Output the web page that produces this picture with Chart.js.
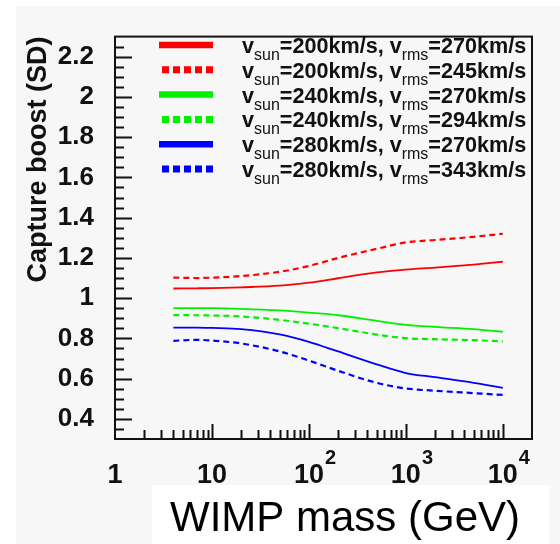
<!DOCTYPE html>
<html><head><meta charset="utf-8">
<script src="https://cdn.jsdelivr.net/npm/chart.js@4/dist/chart.umd.min.js"></script>
<style>html,body{margin:0;padding:0;background:#fff;} #wrap{width:560px;height:544px;position:relative;}</style>
</head><body><div id="wrap"><canvas id="c" width="560" height="544"></canvas></div>
<script>
// ---- data ----
const MASS = [4, 7, 10, 20, 50, 100, 200, 500, 1000, 2000, 5000, 10000];
const RED_SOLID   = [1.048, 1.049, 1.050, 1.054, 1.062, 1.077, 1.099, 1.128, 1.142, 1.152, 1.167, 1.181];
const RED_DASH    = [1.102, 1.100, 1.102, 1.110, 1.131, 1.160, 1.200, 1.245, 1.277, 1.289, 1.305, 1.320];
const GREEN_SOLID = [0.950, 0.950, 0.950, 0.947, 0.939, 0.928, 0.915, 0.887, 0.867, 0.857, 0.846, 0.833];
const GREEN_DASH  = [0.916, 0.915, 0.914, 0.909, 0.892, 0.873, 0.851, 0.819, 0.801, 0.796, 0.791, 0.785];
const BLUE_SOLID  = [0.854, 0.854, 0.852, 0.846, 0.820, 0.783, 0.735, 0.671, 0.628, 0.607, 0.579, 0.554];
const BLUE_DASH   = [0.788, 0.793, 0.789, 0.775, 0.735, 0.690, 0.639, 0.579, 0.551, 0.540, 0.528, 0.519];
const V_SUN = ['200', '200', '240', '240', '280', '280'];
const V_RMS = ['270', '245', '270', '294', '270', '343'];
const Y_TICKS = [0.4, 0.6, 0.8, 1.0, 1.2, 1.4, 1.6, 1.8, 2.0, 2.2];
const Y_TICK_LABELS = ['0.4', '0.6', '0.8', '1', '1.2', '1.4', '1.6', '1.8', '2', '2.2'];
const X_TICKS = [1, 10, 100, 1000, 10000];
const X_TICK_BASE = ['1', '10', '10', '10', '10'];
const X_TICK_EXP = ['', '', '2', '3', '4'];
const Y_TITLE = 'Capture boost (SD)';
const X_TITLE = 'WIMP mass (GeV)';

// ---- styles ----
const FONT = '"Liberation Sans", Arial, sans-serif';
const SERIES = [RED_SOLID, RED_DASH, GREEN_SOLID, GREEN_DASH, BLUE_SOLID, BLUE_DASH];
const COLORS = ['#ff0000', '#ff0000', '#00f000', '#00f000', '#0000ff', '#0000ff'];
const DASHED = [false, true, false, true, false, true];

const datasets = SERIES.map((arr, i) => ({
  label: 'v_sun=' + V_SUN[i] + 'km/s, v_rms=' + V_RMS[i] + 'km/s',
  data: MASS.map((m, j) => ({x: m, y: arr[j]})),
  borderColor: COLORS[i],
  borderWidth: DASHED[i] ? 2.2 : 1.8,
  borderDash: DASHED[i] ? [6, 4] : [],
  pointRadius: 0,
  fill: false,
  cubicInterpolationMode: 'monotone'
}));

const decor = {
  id: 'decor',
  beforeDraw(chart) {
    const c = chart.ctx;
    c.save();
    c.fillStyle = '#ffffff'; c.fillRect(0, 0, 560, 544);
    c.fillStyle = '#f7f7f7'; c.fillRect(16, 6, 544, 538);
    c.fillStyle = '#ffffff'; c.fillRect(152, 485, 397, 59);
    c.restore();
  },
  afterDatasetsDraw(chart) {
    const c = chart.ctx, a = chart.chartArea;
    const xs = chart.scales.x, ys = chart.scales.y;
    c.save();
    c.strokeStyle = '#111'; c.lineWidth = 2;
    c.strokeRect(a.left, a.top, a.right - a.left, a.bottom - a.top);
    // y ticks (inward)
    c.beginPath();
    for (let k = 7; k <= 45; k++) {
      const v = k * 0.05;
      const y = Math.round(ys.getPixelForValue(v)) + 0.5;
      const len = (k % 4 === 0) ? 17 : 9;
      c.moveTo(a.left, y); c.lineTo(a.left + len, y);
    }
    // x ticks (inward)
    for (let d = 0; d <= 4; d++) {
      for (let m = 1; m <= 9; m++) {
        const v = m * Math.pow(10, d);
        if (v <= 1 || v > 10000) continue;
        const x = Math.round(xs.getPixelForValue(v)) + 0.5;
        const len = (m === 1) ? 15 : 9;
        c.moveTo(x, a.bottom); c.lineTo(x, a.bottom - len);
      }
    }
    c.stroke();
    // x tick labels
    c.fillStyle = '#111';
    X_TICKS.forEach((v, i) => {
      const x = xs.getPixelForValue(v);
      c.font = 'bold 27px ' + FONT;
      c.textAlign = 'center'; c.textBaseline = 'alphabetic';
      c.fillText(X_TICK_BASE[i], x, 483);
      if (X_TICK_EXP[i]) {
        const w = c.measureText(X_TICK_BASE[i]).width;
        c.font = 'bold 20px ' + FONT;
        c.textAlign = 'left';
        c.fillText(X_TICK_EXP[i], x + w / 2 + 1, 464);
      }
    });
    // x title
    c.font = '42px ' + FONT;
    c.textAlign = 'center'; c.fillStyle = '#000';
    c.fillText(X_TITLE, 345, 531);
    // legend
    chart.data.datasets.forEach((ds, i) => {
      const yc = 45 + i * 24.8;
      c.strokeStyle = ds.borderColor;
      c.lineCap = 'butt';
      c.beginPath();
      if (DASHED[i]) { c.setLineDash([7, 4]); c.lineWidth = 7; c.moveTo(162, yc); c.lineTo(213, yc); }
      else { c.setLineDash([]); c.lineWidth = 6.5; c.moveTo(159, yc); c.lineTo(213, yc); }
      c.stroke();
      c.setLineDash([]);
      c.textAlign = 'left'; c.textBaseline = 'alphabetic'; c.fillStyle = '#111';
      let x = 242;
      const parts = [['v', 0], ['sun', 1], ['=' + V_SUN[i] + 'km/s, v', 0], ['rms', 1], ['=' + V_RMS[i] + 'km/s', 0]];
      parts.forEach(([t, sub]) => {
        c.font = sub ? '16px ' + FONT : 'bold 21.6px ' + FONT;
        c.fillText(t, x, yc + (sub ? 15 : 8));
        x += c.measureText(t).width;
      });
    });
    c.restore();
  }
};

new Chart(document.getElementById('c'), {
  type: 'line',
  data: {datasets},
  options: {
    responsive: false,
    animation: false,
    devicePixelRatio: 1,
    layout: {padding: {left: 0, top: 24, right: 28, bottom: 0}},
    plugins: {legend: {display: false}, tooltip: {enabled: false}},
    scales: {
      x: {
        type: 'logarithmic', min: 1, max: 20000,
        grid: {display: false, drawTicks: false}, border: {display: false},
        ticks: {display: false},
        afterBuildTicks: s => { s.ticks = X_TICKS.map(v => ({value: v})); },
        afterFit: s => { s.height = 105; }
      },
      y: {
        min: 0.3, max: 2.3,
        grid: {display: false, drawTicks: false}, border: {display: false},
        afterBuildTicks: s => { s.ticks = Y_TICKS.map(v => ({value: v})); },
        ticks: {padding: 21, color: '#111', font: {family: FONT, size: 26, weight: 'bold'},
                callback: (v, i) => Y_TICK_LABELS[i]},
        title: {display: true, text: Y_TITLE, align: 'end', color: '#111',
                padding: {top: 22, bottom: 0}, font: {family: FONT, size: 27, weight: 'bold'}},
        afterFit: s => { s.width = 115; }
      }
    }
  },
  plugins: [decor]
});
</script></body></html>
